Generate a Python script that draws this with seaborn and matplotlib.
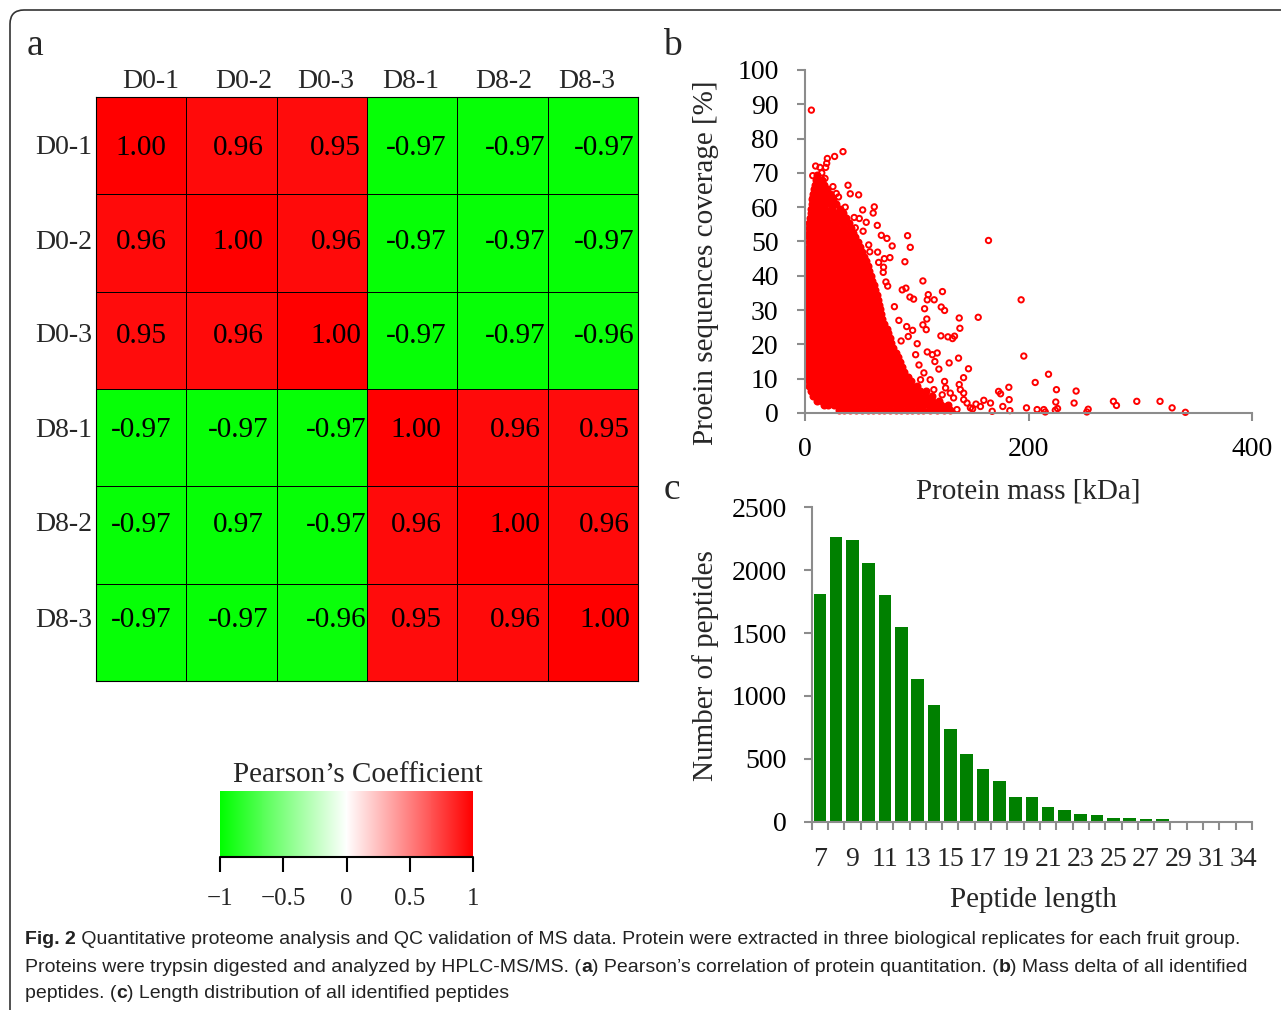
import matplotlib
matplotlib.use("Agg")
import matplotlib.pyplot as plt
import matplotlib.transforms as mtransforms
import seaborn as sns
import pandas as pd
import numpy as np
from matplotlib.colors import LinearSegmentedColormap
from matplotlib.patches import FancyBboxPatch

# ---------------- panel a : Pearson correlation ----------------
samples = ["D0-1", "D0-2", "D0-3", "D8-1", "D8-2", "D8-3"]
pearson = [[1.00, 0.96, 0.95, -0.97, -0.97, -0.97],
           [0.96, 1.00, 0.96, -0.97, -0.97, -0.97],
           [0.95, 0.96, 1.00, -0.97, -0.97, -0.96],
           [-0.97, -0.97, -0.97, 1.00, 0.96, 0.95],
           [-0.97, -0.97, -0.97, 0.96, 1.00, 0.96],
           [-0.97, -0.97, -0.96, 0.95, 0.96, 1.00]]
# printed numbers (one cell shows "0.97" in the original)
pearson_text = [["1.00", "0.96", "0.95", "-0.97", "-0.97", "-0.97"],
                ["0.96", "1.00", "0.96", "-0.97", "-0.97", "-0.97"],
                ["0.95", "0.96", "1.00", "-0.97", "-0.97", "-0.96"],
                ["-0.97", "-0.97", "-0.97", "1.00", "0.96", "0.95"],
                ["-0.97", "0.97", "-0.97", "0.96", "1.00", "0.96"],
                ["-0.97", "-0.97", "-0.96", "0.95", "0.96", "1.00"]]
cbar_ticks = [-1, -0.5, 0, 0.5, 1]
cbar_labels = ["\u22121", "\u22120.5", "0", "0.5", "1"]

# ---------------- panel b : protein mass vs coverage ----------------
# scattered points read one by one (mass kDa, coverage %)
outlier_mass = [5.7, 34, 26.5, 20, 19.4, 9.5, 13.4, 18.5, 6.9, 11, 17.9, 38.5, 40.5, 48, 6.9,
                62, 61, 51.6, 48.6, 54.8, 64.7, 91.8, 164.2, 94.2, 78, 73.3, 68.3, 65, 76, 89.4,
                65.9, 70.3, 105.5, 72.4, 123, 110.3, 90.3, 87, 115.6, 193.4, 121.9, 124.9, 97.2,
                93.9, 109.4, 107, 155, 138, 138.6, 109, 105.5, 108.5, 121.6, 127.9, 132, 133.8,
                91, 96.3, 100.4, 92.4, 195.8, 137.4, 129, 146.3, 109.4, 114, 118.3, 116.2, 119.8,
                124.9, 141.9, 217.9, 206, 182.4, 173.2, 175, 182.7, 160, 166, 157, 167.5, 177,
                183.3, 198.2, 207.7, 213.7, 215, 224.4, 225, 242.6, 240.8, 224, 226, 253.4, 252.2,
                276, 278.7, 296.9, 317.7, 328.5, 340.4, 142, 145, 148, 139, 142, 138, 130, 133,
                136, 127, 118, 122.8, 125.8, 115.3, 112, 106.4, 103.4, 109.4, 112.4, 150, 153,
                25, 30, 44, 52, 57, 70, 74, 80, 84, 86, 99, 102, 71, 58, 45, 36, 28, 15]
outlier_cov = [88.3, 76.2, 74.8, 74.2, 72.8, 72, 71.6, 71.6, 69.2, 68.7, 68.4, 66.4, 63.9, 63.6, 62.6,
               60.1, 58.3, 59.2, 56.7, 55.6, 54.7, 51.7, 50.3, 48.3, 48.7, 50.9, 51.8, 46.9, 45.3, 44.1,
               43.9, 42.5, 38.5, 38.2, 35.4, 34.5, 36.4, 35.9, 33, 33, 30.9, 29.9, 33.2,
               33.8, 33, 30.4, 27.9, 27.7, 24.7, 27.4, 25.7, 24.3, 22.5, 22.2, 21.7, 22.4,
               25.2, 24.1, 20.2, 22.3, 16.6, 16, 14.6, 12.9, 17.8, 17, 17.5, 15, 12.8,
               9.2, 10.3, 11.3, 8.9, 7.5, 6.3, 5.6, 3.9, 3.7, 2.9, 1.9, 0.5, 1.9,
               0.7, 1.5, 1, 1, 0.3, 3.2, 6.8, 6.4, 2.9, 0.8, 1.3, 1.1, 0.3,
               3.4, 2.2, 3.4, 3.4, 1.5, 0.2, 3.9, 2.9, 1.5, 6.8, 5.8, 8.3, 5.8, 4.4,
               1, 1.9, 1, 5.3, 7.3, 6.8, 9.7, 11.7, 9.7, 3.9, 1.5, 1.2, 2.6,
               66, 63, 57, 53, 49, 41, 37, 31, 27, 21, 17, 14, 45, 47, 54, 60, 64, 70]
# the dense cloud, read as rows of coverage with the masses seen along each row
cloud_rows = [
    (1.0, [30, 35, 40, 46, 51, 56, 61, 66, 71, 76, 81, 86, 91, 96, 101, 106, 112, 118, 124, 130]),
    (2.3, [17, 21, 26, 31, 36, 41, 46, 51, 56, 61, 66, 71, 76, 81, 86, 91, 96, 101, 106, 111, 116, 122, 128]),
    (3.6, [11, 15, 20, 24, 29, 34, 39, 44, 49, 54, 59, 64, 69, 74, 79, 84, 89, 94, 99, 104, 109, 114, 120]),
    (5.0, [7, 11, 16, 21, 26, 31, 36, 41, 46, 51, 56, 61, 66, 71, 76, 81, 86, 91, 96, 101, 107, 114]),
    (6.4, [5, 9, 13, 18, 23, 28, 33, 38, 43, 48, 53, 58, 63, 68, 73, 78, 83, 88, 93, 98, 103, 108]),
    (7.8, [4, 7, 11, 15, 20, 25, 30, 35, 40, 45, 50, 55, 60, 65, 70, 75, 80, 85, 90, 95, 100]),
    (9.2, [3.5, 6, 9, 13, 17, 22, 27, 32, 37, 42, 47, 52, 57, 62, 67, 72, 77, 82, 87, 91, 95]),
    (10.6, [3, 5, 8, 11, 15, 20, 25, 30, 35, 40, 45, 50, 55, 60, 65, 70, 75, 80, 85, 89, 92]),
    (12.0, [3, 5, 9, 13, 18, 23, 28, 33, 38, 43, 48, 53, 58, 63, 68, 73, 78, 83, 86, 89]),
    (13.4, [2.5, 5, 8, 11, 15, 20, 25, 30, 35, 40, 45, 50, 55, 60, 65, 70, 75, 80, 84, 87]),
    (14.8, [2.5, 5, 9, 13, 18, 23, 28, 33, 38, 43, 48, 53, 58, 63, 68, 73, 78, 82, 85]),
    (16.2, [2.5, 5, 8, 11, 15, 20, 25, 30, 35, 40, 45, 50, 55, 60, 65, 70, 75, 79, 83]),
    (17.6, [2.5, 5, 9, 13, 18, 23, 28, 33, 38, 43, 48, 53, 58, 63, 68, 73, 77, 81]),
    (19.0, [2.5, 5, 8, 11, 15, 20, 25, 30, 35, 40, 45, 50, 55, 60, 65, 70, 75, 79]),
    (20.4, [2.5, 5, 9, 13, 18, 23, 28, 33, 38, 43, 48, 53, 58, 63, 68, 73, 77]),
    (21.8, [2.5, 5, 8, 11, 15, 20, 25, 30, 35, 40, 45, 50, 55, 60, 65, 70, 73, 76]),
    (23.2, [2.5, 5, 9, 13, 18, 23, 28, 33, 38, 43, 48, 53, 58, 63, 68, 71, 74]),
    (24.6, [2.5, 5, 8, 11, 15, 20, 25, 30, 35, 40, 45, 50, 55, 60, 65, 69, 73]),
    (26.0, [2.5, 5, 9, 13, 18, 23, 28, 33, 38, 43, 48, 53, 58, 63, 67, 71]),
    (27.4, [2.5, 5, 8, 11, 15, 20, 25, 30, 35, 40, 45, 50, 55, 60, 65, 69]),
    (28.8, [2.5, 5, 9, 13, 18, 23, 28, 33, 38, 43, 48, 53, 58, 63, 68]),
    (30.2, [2.5, 5, 8, 11, 15, 20, 25, 30, 35, 40, 45, 50, 55, 60, 64, 67]),
    (31.6, [2.5, 5, 9, 13, 18, 23, 28, 33, 38, 43, 48, 53, 58, 62, 66]),
    (33.0, [2.5, 5, 8, 11, 15, 20, 25, 30, 35, 40, 45, 50, 55, 60, 65]),
    (34.4, [2.5, 5, 9, 13, 18, 23, 28, 33, 38, 43, 48, 53, 57, 61, 64]),
    (35.8, [3, 5, 8, 11, 15, 20, 25, 30, 35, 40, 45, 50, 55, 59, 63]),
    (37.2, [3, 5, 9, 13, 18, 23, 28, 33, 38, 43, 48, 53, 58, 62]),
    (38.6, [3, 5, 8, 11, 15, 20, 25, 30, 35, 40, 45, 50, 55, 60]),
    (40.0, [3, 5, 9, 13, 18, 23, 28, 33, 38, 43, 48, 53, 56, 59]),
    (41.4, [3, 5, 8, 11, 15, 20, 25, 30, 35, 40, 45, 50, 54, 57]),
    (42.8, [3, 5, 9, 13, 18, 23, 28, 33, 38, 43, 48, 52, 56]),
    (44.2, [3, 5, 8, 11, 15, 20, 25, 30, 35, 40, 45, 50, 55]),
    (45.6, [3, 5, 9, 13, 18, 23, 28, 33, 38, 43, 48, 53]),
    (47.0, [3, 5, 8, 11, 15, 20, 25, 30, 35, 40, 45, 51]),
    (48.4, [3.5, 6, 9, 13, 18, 23, 28, 33, 38, 44, 49]),
    (49.8, [3.5, 6, 8, 11, 15, 20, 25, 30, 36, 42, 47]),
    (51.2, [3.5, 6, 9, 13, 18, 23, 28, 34, 40, 45]),
    (52.6, [4, 7, 11, 15, 20, 25, 31, 37, 43]),
    (54.0, [4, 7, 10, 14, 18, 23, 29, 35, 41]),
    (55.4, [4, 8, 12, 16, 21, 27, 33, 39]),
    (56.8, [4.5, 8, 11, 15, 20, 25, 31, 37]),
    (58.2, [5, 8, 12, 17, 22, 28, 34]),
    (59.6, [5, 9, 13, 18, 24, 31]),
    (61.0, [6, 9, 13, 18, 23, 28]),
    (62.4, [6, 10, 15, 20, 25]),
    (63.8, [7, 11, 16, 22]),
    (65.2, [8, 12, 16, 20]),
    (66.6, [9, 13, 17]),
    (68.0, [10, 15]),
    (69.5, [11]),
]

# ---------------- panel c : peptide length distribution ----------------
peptide_length = [7, 8, 9, 10, 11, 12, 13, 14, 15, 16, 17, 18, 19, 20, 21, 22, 23, 24, 25, 26,
                  27, 28, 29, 30, 31, 32, 34]
peptide_count = [1808, 2264, 2240, 2057, 1800, 1551, 1135, 931, 740, 541, 416, 321, 196, 196,
                 117, 90, 61, 53, 29, 27, 19, 19, 3, 2, 1, 1, 1]
length_labels = ["7", "9", "11", "13", "15", "17", "19", "21", "23", "25", "27", "29", "31", "34"]

# ---------------- figure ----------------
W, H = 1281, 1010
sns.set_style("white")
plt.rcParams["font.family"] = ["Liberation Serif", "DejaVu Serif"]
plt.rcParams["axes.unicode_minus"] = True

fig = plt.figure(figsize=(W / 100, H / 100), dpi=100)


def box(x0, y0, x1, y1):
    # pixel box (top-left origin) -> figure fraction rect
    return [x0 / W, 1 - y1 / H, (x1 - x0) / W, (y1 - y0) / H]


GRAY = "#8c8c8c"
FS = 20

# ---- a ----
ax_a = fig.add_axes(box(96, 97, 638, 681))
cax = fig.add_axes(box(220, 791, 473, 857))
cmap = LinearSegmentedColormap.from_list("gwr", ["#00ff00", "#ffffff", "#ff0000"])
df_a = pd.DataFrame(pearson, index=samples, columns=samples)
sns.heatmap(df_a, ax=ax_a, cmap=cmap, vmin=-1, vmax=1, annot=np.array(pearson_text), fmt="",
            annot_kws={"color": "black", "fontsize": 21}, linewidths=0.7, linecolor="black",
            cbar_ax=cax, cbar_kws={"orientation": "horizontal", "ticks": cbar_ticks})
# the printed numbers are not all centred in the original
col_shift = [0.0, 0.07, 0.155, 0.045, 0.14, 0.13]
row_shift = [0.02, -0.01, -0.045, -0.075, -0.105, -0.125]
for t in ax_a.texts:
    x, y = t.get_position()
    t.set_position((x + col_shift[int(x)], y + row_shift[int(y)]))
ax_a.xaxis.tick_top()
ax_a.set_xticks([0.61, 1.63, 2.54, 3.48, 4.51, 5.43])
ax_a.set_xticklabels(samples, rotation=0, fontsize=FS)
ax_a.set_yticks([i + 0.5 + row_shift[i] for i in range(6)])
ax_a.set_yticklabels(samples, rotation=0, fontsize=FS)
ax_a.tick_params(axis="x", length=0, pad=2)
ax_a.tick_params(axis="y", length=0, pad=3)
ax_a.set_xlabel("")
ax_a.set_ylabel("")
for sp in ax_a.spines.values():
    sp.set_visible(True)
    sp.set_color("black")
    sp.set_linewidth(0.8)

cbar = ax_a.collections[0].colorbar
cbar.outline.set_visible(False)
cbar.set_ticks(cbar_ticks)
cbar.set_ticklabels(cbar_labels)
cax.tick_params(axis="x", length=11, width=1.5, color="black", labelsize=18, pad=11, direction="out")
cax.axhline(cax.get_ylim()[0], color="black", lw=1.5, clip_on=False)
fig.text(358 / W, 1 - 775 / H, "Pearson\u2019s Coefficient", ha="center", va="center", fontsize=21)

# ---- b ----
ax_b = fig.add_axes(box(805, 70, 1252, 413))
cloud_mass = [m for c, ms in cloud_rows for m in ms]
cloud_cov = [c for c, ms in cloud_rows for m in ms]
df_cloud = pd.DataFrame({"mass": cloud_mass, "cov": cloud_cov})
df_out = pd.DataFrame({"mass": outlier_mass, "cov": outlier_cov})
# the overlapping rings of the dense cloud merge into solid red
sns.scatterplot(data=df_cloud, x="mass", y="cov", ax=ax_b, marker="o", s=20, color="red",
                edgecolor="red", linewidth=1.3, clip_on=False)
sns.scatterplot(data=df_out, x="mass", y="cov", ax=ax_b, marker="o", s=15, color="red",
                facecolor="none", edgecolor="red", linewidth=1.4, clip_on=False)
ax_b.set_xlim(0, 400)
ax_b.set_ylim(0, 100)
ax_b.set_xticks([0, 200, 400])
ax_b.set_yticks(range(0, 101, 10))
ax_b.tick_params(axis="y", colors=GRAY, labelcolor="black", length=6, width=1.5, labelsize=FS, pad=13, left=True)
ax_b.tick_params(axis="x", colors=GRAY, labelcolor="black", length=6, width=1.5, labelsize=FS, pad=11, bottom=True)
for s in ["top", "right"]:
    ax_b.spines[s].set_visible(False)
for s in ["left", "bottom"]:
    ax_b.spines[s].set_color(GRAY)
    ax_b.spines[s].set_linewidth(1.5)
ax_b.set_xlabel("Protein mass [kDa]", fontsize=21)
ax_b.set_ylabel("Proein sequences coverage [%]", fontsize=21)
ax_b.xaxis.set_label_coords(0.499, -0.19)
ax_b.yaxis.set_label_coords(-0.192, 0.437)

# ---- c ----
ax_c = fig.add_axes(box(811.7, 507.3, 1252, 821.7))
ax_c.patch.set_visible(False)
df_c = pd.DataFrame({"length": peptide_length, "count": peptide_count})
sns.barplot(data=df_c, x="length", y="count", ax=ax_c, color="#008000", saturation=1,
            width=0.77, edgecolor="none")
ax_c.set_xlim(-0.5, len(peptide_length) - 0.5)
ax_c.set_ylim(0, 2500)
ax_c.set_yticks(range(0, 2501, 500))
ax_c.set_xticks(range(0, len(peptide_length), 2))
ax_c.set_xticklabels(length_labels)
ax_c.set_xticks(np.arange(-0.5, len(peptide_length)), minor=True)
ax_c.tick_params(axis="x", which="major", length=0, labelsize=FS, pad=18)
ax_c.tick_params(axis="x", which="minor", colors=GRAY, length=6, width=1.5, bottom=True)
ax_c.tick_params(axis="y", colors=GRAY, labelcolor="black", length=6, width=1.5, labelsize=FS, pad=12, left=True)
for s in ["top", "right"]:
    ax_c.spines[s].set_visible(False)
for s in ["left", "bottom"]:
    ax_c.spines[s].set_color(GRAY)
    ax_c.spines[s].set_linewidth(1.5)
ax_c.set_xlabel("Peptide length", fontsize=21)
ax_c.set_ylabel("Number of peptides", fontsize=21)
ax_c.xaxis.set_label_coords(0.503, -0.208)
ax_c.yaxis.set_label_coords(-0.211, 0.498)

# panel letters
for letter, (px, py) in {"a": (35, 46), "b": (672, 46), "c": (672, 490)}.items():
    fig.text(px / W, 1 - py / H, letter, ha="center", va="center", fontsize=27)

# caption
cap_font = ["Liberation Sans", "DejaVu Sans"]
cap_size = 14
renderer = fig.canvas.get_renderer()


def advance(s, bold):
    a = fig.text(0, 0, s + "|", fontsize=cap_size, family=cap_font, fontweight="bold" if bold else "normal")
    b = fig.text(0, 0, "|", fontsize=cap_size, family=cap_font, fontweight="bold" if bold else "normal")
    w = a.get_window_extent(renderer).width - b.get_window_extent(renderer).width
    a.remove()
    b.remove()
    return w


caption = [
    (940, [("Fig. 2", True), (" Quantitative proteome analysis and QC validation of MS data. Protein were extracted in three biological replicates for each fruit group.", False)]),
    (967, [("Proteins were trypsin digested and analyzed by HPLC-MS/MS. (", False), ("a", True),
           (") Pearson\u2019s correlation of protein quantitation. (", False), ("b", True),
           (") Mass delta of all identified", False)]),
    (993, [("peptides. (", False), ("c", True), (") Length distribution of all identified peptides", False)]),
]
for py, parts in caption:
    x = 25
    for s, bold in parts:
        fig.text(x / W, 1 - py / H, s, ha="left", va="center", fontsize=cap_size, family=cap_font,
                 fontweight="bold" if bold else "normal", color="#222222")
        x += advance(s, bold)

# rounded frame round the whole figure
frame = FancyBboxPatch((10, -30), 1320, 1030, boxstyle="round,pad=0,rounding_size=14",
                       transform=mtransforms.IdentityTransform(), facecolor="none",
                       edgecolor="#333333", linewidth=1.2)
fig.patches.append(frame)

fig.savefig("out.png", dpi=100)
